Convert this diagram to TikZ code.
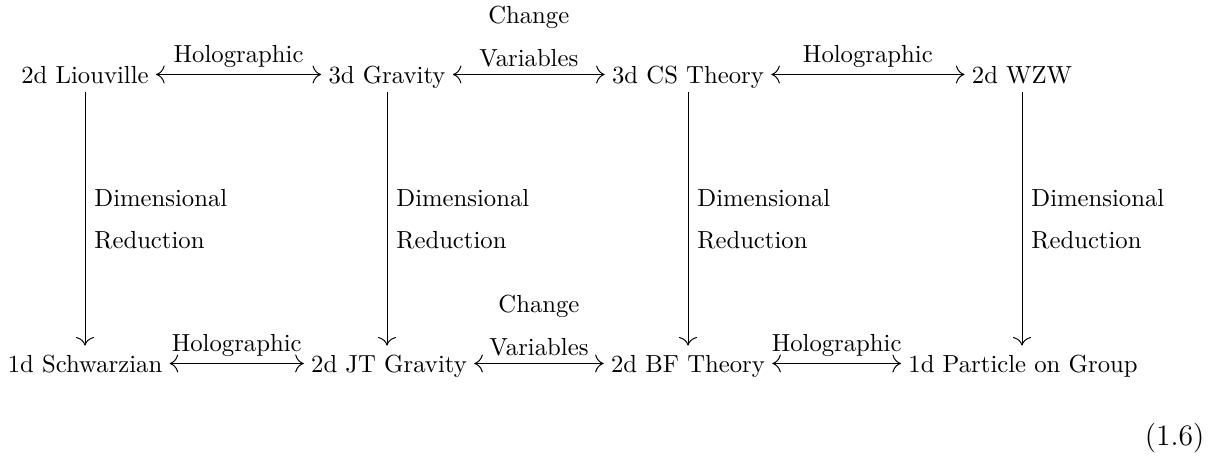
\documentclass[tikz,border=0pt]{standalone}
\usetikzlibrary{cd}
\begin{document}
\begin{tikzpicture}[x=0.40486pt,y=-0.40486pt,>={cm to[scale=1.4]},
  obj/.style={anchor=base,inner xsep=2.8pt,inner ysep=2pt,text height=8.5pt,text depth=1.6pt},
  harr/.style={<->,line width=0.4pt},
  varr/.style={->,line width=0.4pt},
  hlab/.style={midway,anchor=base,yshift=5pt,inner sep=0pt},
  vlab/.style={anchor=base,yshift=3.3pt,inner sep=0pt},
  clab/.style={anchor=base,yshift=20.5pt,inner sep=0pt},
  dlab/.style={midway,right,align=left,inner xsep=3.6pt,inner ysep=0pt}]
\useasboundingbox (0,0) rectangle (1217,456);
% top row
\node[obj] (L)  at (85,83)    {2d Liouville};
\node[obj] (G)  at (387,83)   {3d Gravity};
\node[obj] (CS) at (688,83)   {3d CS Theory};
\node[obj] (W)  at (1022,83)  {2d WZW};
% bottom row
\node[obj] (S)  at (85,372)   {1d Schwarzian};
\node[obj] (JT) at (389,372)  {2d JT Gravity};
\node[obj] (BF) at (688,372)  {2d BF Theory};
\node[obj] (P)  at (1023,372) {1d Particle on Group};
% horizontal arrows
\draw[harr] (L) -- (G) node[hlab] (h1) {Holographic};
\draw[harr] (G) -- (CS) node[midway,coordinate] (m1) {};
\node[vlab] (v1) at (m1) {Variables};
\node[clab] (c1) at (m1) {Change};
\draw[harr] (CS) -- (W) node[hlab] (h2) {Holographic};
\draw[harr] (S) -- (JT) node[hlab] (h3) {Holographic};
\draw[harr] (JT) -- (BF) node[midway,coordinate] (m2) {};
\node[vlab] (v2) at (m2) {Variables};
\node[clab] (c2) at (m2) {Change};
\draw[harr] (BF) -- (P) node[hlab] (h4) {Holographic};
% vertical arrows
\draw[varr] (L.south) -- (L.south |- S.north) node[dlab] (d1) {Dimensional\\[5pt]Reduction};
\draw[varr] (G.south) -- (G.south |- JT.north) node[dlab] (d2) {Dimensional\\[5pt]Reduction};
\draw[varr] (CS.south) -- (CS.south |- BF.north) node[dlab] (d3) {Dimensional\\[5pt]Reduction};
\draw[varr] (W.south) -- (W.south |- P.north) node[dlab] (d4) {Dimensional\\[5pt]Reduction};
% equation number
\node[anchor=base east,inner sep=0pt,font=\large] (eq) at (1205,445) {(1.6)};
\end{tikzpicture}
\end{document}
